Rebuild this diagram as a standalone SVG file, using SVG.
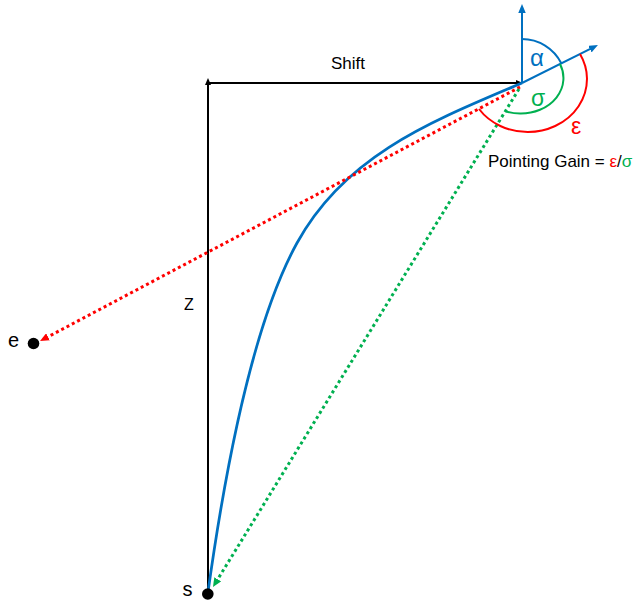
<svg xmlns="http://www.w3.org/2000/svg" width="637" height="603" viewBox="0 0 637 603">
  <style>
    .lbl { font-family: "Liberation Sans", Arial, sans-serif; fill: #000; }
    .axis { stroke: #000; stroke-width: 2; fill: none; }
    .blue { stroke: #0070C0; stroke-width: 2; fill: none; }
    .dot-red { stroke: #FF0000; stroke-width: 3; stroke-dasharray: 3 3; fill: none; }
    .dot-green { stroke: #00B050; stroke-width: 3; stroke-dasharray: 3 3; fill: none; }
    .arc { stroke-width: 2; fill: none; }
  </style>
  <defs>
    <marker id="ahBlack" markerUnits="userSpaceOnUse" markerWidth="7" markerHeight="6" refX="1" refY="3" orient="auto">
      <path d="M0,0 L7,3 L0,6 z" fill="#000"/>
    </marker>
    <marker id="ahBlue" markerUnits="userSpaceOnUse" markerWidth="9" markerHeight="8" refX="1" refY="3.75" orient="auto">
      <path d="M0,0 L9,3.75 L0,7.5 z" fill="#0070C0"/>
    </marker>
    <marker id="ahRed" markerUnits="userSpaceOnUse" markerWidth="9" markerHeight="8" refX="0" refY="4" orient="auto">
      <path d="M0,0 L9,4 L0,8 z" fill="#FF0000"/>
    </marker>
    <marker id="ahGreen" markerUnits="userSpaceOnUse" markerWidth="9" markerHeight="8" refX="0" refY="4" orient="auto">
      <path d="M0,0 L9,4 L0,8 z" fill="#00B050"/>
    </marker>
  </defs>

  <g id="connectors">
    <line id="axis-z" class="axis" x1="208" y1="594" x2="208" y2="84" marker-end="url(#ahBlack)"/>
    <line id="axis-shift" class="axis" x1="208" y1="83" x2="517" y2="83" marker-end="url(#ahBlack)"/>
    <path id="trajectory" d="M208,592 C226,463.3 253.6,321.8 297,243 C345.2,155.4 430,122 522,83" stroke="#0070C0" stroke-width="2.75" fill="none"/>
    <line id="vertical-ref" class="blue" x1="522" y1="83" x2="522" y2="12" marker-end="url(#ahBlue)"/>
    <line id="pointing-dir" class="blue" x1="522" y1="83" x2="590.8" y2="48.6" marker-end="url(#ahBlue)"/>
    <line id="to-e" class="dot-red" x1="520" y1="87" x2="48" y2="336.8" marker-end="url(#ahRed)"/>
    <line id="to-s" class="dot-green" x1="519" y1="89" x2="217.7" y2="579.3" marker-end="url(#ahGreen)"/>
  </g>

  <g id="angles">
    <path id="arc-alpha" class="arc" stroke="#0070C0" d="M522,39 A44,44 0 0 1 561.3,63.3"/>
    <path id="arc-sigma" class="arc" stroke="#00B050" d="M560,64 A42.5,35.5 0 0 1 521,113.5 A42.5,35.5 0 0 1 506,111.5"/>
    <path id="arc-epsilon" class="arc" stroke="#FF0000" d="M580,54 A59,53 0 0 1 528,132 A59,53 0 0 1 479,109"/>
    <text class="lbl" x="530" y="65.5" font-size="24" style="fill:#0070C0">α</text>
    <text class="lbl" x="531" y="106" font-size="23" style="fill:#00B050">σ</text>
    <text class="lbl" x="571" y="134" font-size="23" style="fill:#FF0000">ε</text>
  </g>

  <g id="node-e">
    <circle cx="33.5" cy="343.5" r="5.8" fill="#000"/>
    <text class="lbl" x="8" y="346.5" font-size="20">e</text>
  </g>
  <g id="node-s">
    <circle cx="207.8" cy="594" r="5.8" fill="#000"/>
    <text class="lbl" x="182.5" y="595.5" font-size="20">s</text>
  </g>
  <g id="label-shift">
    <text class="lbl" x="348" y="69.3" font-size="17" text-anchor="middle">Shift</text>
  </g>
  <g id="label-z">
    <text class="lbl" x="184" y="310" font-size="16">Z</text>
  </g>
  <g id="label-gain">
    <text class="lbl" x="488" y="167" font-size="17">Pointing Gain = <tspan style="fill:#FF0000">ε</tspan>/<tspan style="fill:#00B050">σ</tspan></text>
  </g>
</svg>
